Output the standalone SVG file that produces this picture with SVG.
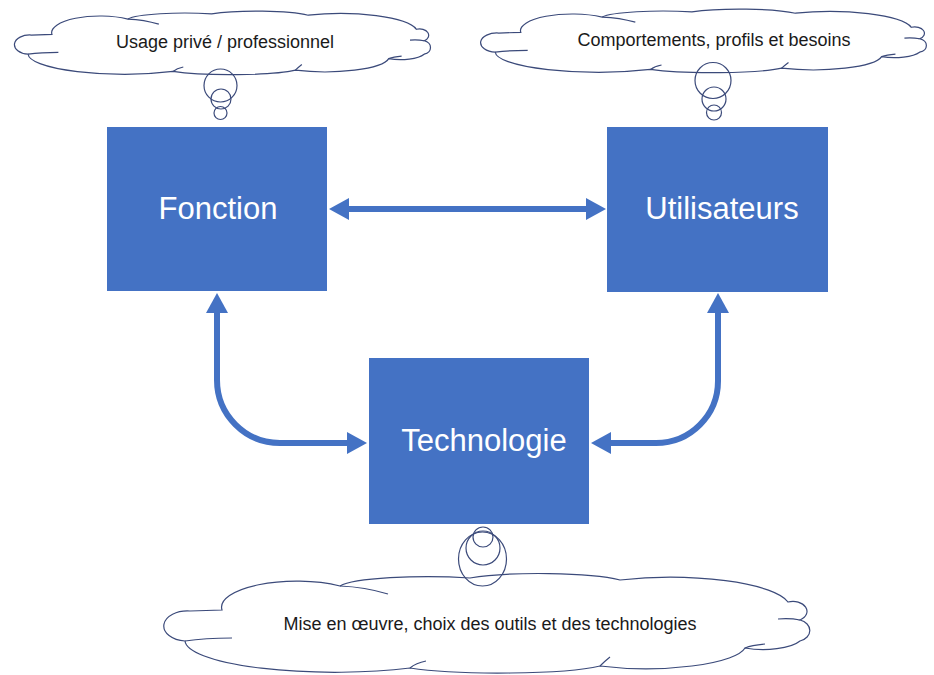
<svg xmlns="http://www.w3.org/2000/svg" xmlns:xlink="http://www.w3.org/1999/xlink" width="934" height="675" viewBox="0 0 934 675">
  <style>
    .box { fill: #4472C4; }
    .boxlabel { font-family: "Liberation Sans", Arial, sans-serif; font-size: 31px; fill: #ffffff; text-anchor: middle; }
    .cloud { fill: #ffffff; stroke: #3B4A7A; stroke-width: 1.2; vector-effect: non-scaling-stroke; }
    .crease { fill: none; stroke: #3B4A7A; stroke-width: 1.2; vector-effect: non-scaling-stroke; }
    .bubble { fill: none; stroke: #3B4A7A; stroke-width: 1.2; }
    .cloudlabel { font-family: "Liberation Sans", Arial, sans-serif; font-size: 18px; fill: #1a1a1a; text-anchor: middle; }
    .conn { fill: none; stroke: #4472C4; stroke-width: 6; marker-start: url(#head); marker-end: url(#head); }
  </style>
  <defs>
    <marker id="head" viewBox="0 0 20 22" refX="0" refY="11" markerWidth="20" markerHeight="22" markerUnits="userSpaceOnUse" orient="auto-start-reverse">
      <path d="M0,0 L20,11 L0,22 Z" fill="#4472C4"/>
    </marker>
    <path id="cloudOutline" class="cloud" d="M 185 641 A 22 14 0 0 1 190 611 L 222 610 A 75 26 0 0 1 340 586 A 90 12 0 0 1 470 578 A 90 12 0 0 1 620 580 A 120 30 0 0 1 788 602 A 14 10 0 0 1 800 620 A 14 11 0 0 1 800 641 A 40 14 0 0 1 745 648 A 100 24 0 0 1 600 666 A 110 12 0 0 1 410 668 A 150 32 0 0 1 185 641 Z"/>
    <path id="cloudCreases" class="crease" d="M 340 586 Q 365 587 388 594 M 800 620 Q 790 618 778 619 M 745 648 Q 752 645 765 644 M 600 666 Q 605 661 610 657 M 410 668 Q 416 663 426 661 M 185 641 Q 205 638 232 638"/>
  </defs>

  <g id="cloud-usage">
    <g transform="translate(-91.04,-355.4) scale(0.644,0.639)">
      <use xlink:href="#cloudOutline"/>
      <use xlink:href="#cloudCreases"/>
    </g>
    <circle class="bubble" cx="220.5" cy="85.5" r="16.5"/>
    <circle class="bubble" cx="221" cy="99" r="10"/>
    <circle class="bubble" cx="220.5" cy="113" r="6.5"/>
    <text class="cloudlabel" x="225" y="48">Usage privé / professionnel</text>
  </g>

  <g id="cloud-comportements">
    <g transform="translate(367.6,-357.4) scale(0.690,0.639)">
      <use xlink:href="#cloudOutline"/>
      <use xlink:href="#cloudCreases"/>
    </g>
    <circle class="bubble" cx="713" cy="80.5" r="18"/>
    <circle class="bubble" cx="714" cy="99" r="12"/>
    <circle class="bubble" cx="714" cy="112.5" r="7.5"/>
    <text class="cloudlabel" x="714" y="46">Comportements, profils et besoins</text>
  </g>

  <g id="cloud-technologie">
    <use xlink:href="#cloudOutline"/>
    <use xlink:href="#cloudCreases"/>
    <circle class="bubble" cx="483" cy="537" r="10"/>
    <ellipse class="bubble" cx="483" cy="548" rx="17" ry="17"/>
    <ellipse class="bubble" cx="482.5" cy="559" rx="24" ry="27"/>
    <text class="cloudlabel" x="490" y="630">Mise en œuvre, choix des outils et des technologies</text>
  </g>

  <g id="node-fonction">
    <rect class="box" x="107" y="127" width="220" height="164"/>
    <text class="boxlabel" x="218" y="219">Fonction</text>
  </g>

  <g id="node-utilisateurs">
    <rect class="box" x="607" y="127" width="221" height="165"/>
    <text class="boxlabel" x="722" y="219">Utilisateurs</text>
  </g>

  <g id="node-technologie">
    <rect class="box" x="369" y="358" width="220" height="166"/>
    <text class="boxlabel" x="484" y="451">Technologie</text>
  </g>

  <g id="connectors">
    <path class="conn" d="M 349 209 H 586"/>
    <path class="conn" d="M 217 313 V 380 A 63 63 0 0 0 280 443 H 347"/>
    <path class="conn" d="M 718 313 V 381 A 62 62 0 0 1 656 443 H 611"/>
  </g>
</svg>
